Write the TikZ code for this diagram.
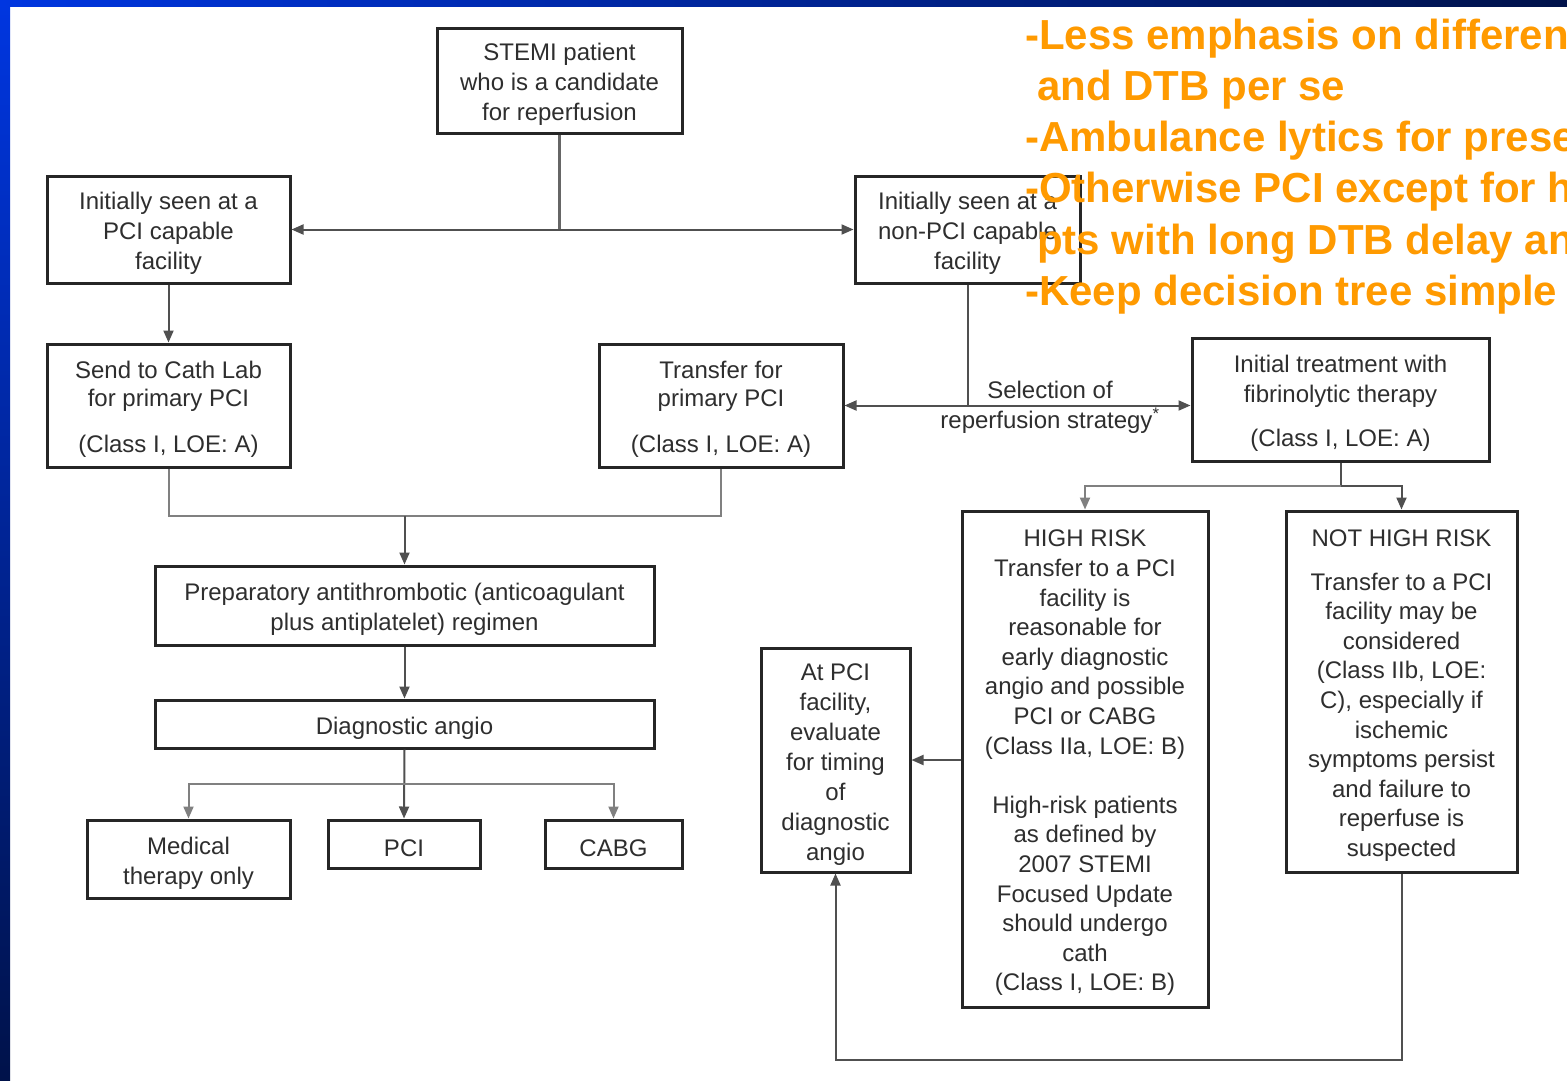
\documentclass[tikz,border=0pt]{standalone}
\usepackage{fontspec}
\setmainfont{Liberation Sans}
\usetikzlibrary{arrows.meta}
\definecolor{orng}{HTML}{FF9A00}
\definecolor{txt}{HTML}{2E2E2E}
\definecolor{ln}{HTML}{505050}
\definecolor{blueA}{HTML}{0036E0}
\definecolor{blueM}{HTML}{0026A8}
\definecolor{blueC}{HTML}{00124A}
\newcommand{\tgap}{\mbox{}\\[-5pt]}
\begin{document}
\begin{tikzpicture}[x=1pt,y=-1pt,
  box/.style={draw=black!85,line width=3pt,align=center,inner sep=0pt,text=txt,
    font=\fontsize{24}{30}\selectfont},
  conn/.style={draw=ln,line width=2pt},
  arr/.style={conn,-{Triangle[length=12pt,width=10pt]}},
  lbl/.style={text=txt,align=center,inner sep=0pt,font=\fontsize{24}{30}\selectfont},
  orangetxt/.style={text=orng,anchor=west,inner sep=0pt,
    font=\fontsize{42}{51}\selectfont\bfseries}]
\useasboundingbox (0,0) rectangle (1567,1080);
\clip (0,0) rectangle (1567,1080);
% slide background
\fill[white] (0,0) rectangle (1567,1080);
\shade[top color=blueA,bottom color=blueC] (0,0) rectangle (10,1080);
\shade[left color=blueA,middle color=blueM,right color=blueC] (0,0) rectangle (1567,6);

% boxes
\node[box,minimum width=245pt,minimum height=105pt] (stemi) at (559.5,80.5)
  {\tgap STEMI patient\\who is a candidate\\for reperfusion};
\node[box,minimum width=243pt,minimum height=107pt] (pcicap) at (168.5,229.5)
  {\tgap Initially seen at a\\PCI capable\\facility};
\node[box,minimum width=225pt,minimum height=107pt] (nonpci) at (967.5,229.5)
  {\tgap Initially seen at a\\non-PCI capable\\facility};
\node[box,minimum width=243pt,minimum height=123pt] (cath) at (168.5,405.5)
  {\tgap Send to Cath Lab\\[-2pt]for primary PCI\\[16pt](Class I, LOE: A)};
\node[box,minimum width=244pt,minimum height=123pt] (transfer) at (721,405.5)
  {\tgap Transfer for\\[-2pt]primary PCI\\[16pt](Class I, LOE: A)};
\node[box,minimum width=297pt,minimum height=123pt] (lytic) at (1340.5,399.5)
  {\tgap Initial treatment with\\fibrinolytic therapy\\[14pt](Class I, LOE: A)};
\node[box,minimum width=499pt,minimum height=79pt] (prep) at (404.5,605.5)
  {\tgap Preparatory antithrombotic (anticoagulant\\plus antiplatelet) regimen};
\node[box,minimum width=499pt,minimum height=48pt] (diag) at (404.5,724)
  {\tgap Diagnostic angio};
\node[box,minimum width=203pt,minimum height=78pt] (med) at (188.5,859)
  {\tgap Medical\\therapy only};
\node[box,minimum width=152pt,minimum height=48pt] (pci) at (404,844)
  {\tgap PCI};
\node[box,minimum width=137pt,minimum height=48pt] (cabg) at (613.5,844)
  {\tgap CABG};
\node[box,minimum width=149pt,minimum height=224pt] (atpci) at (835.5,760)
  {\tgap At PCI\\facility,\\evaluate\\for timing\\of\\diagnostic\\angio};
\node[box,minimum width=246pt,minimum height=496pt,
  font=\fontsize{24}{29.6}\selectfont] (high) at (1085,759)
  {\tgap HIGH RISK\\Transfer to a PCI\\facility is\\reasonable for\\early diagnostic\\angio and possible\\PCI or CABG\\(Class IIa, LOE: B)\\[29.6pt]High-risk patients\\as defined by\\2007 STEMI\\Focused Update\\should undergo\\cath\\(Class I, LOE: B)};
\node[box,minimum width=231pt,minimum height=361pt,
  font=\fontsize{24}{29.6}\selectfont] (nothigh) at (1401.5,691.5)
  {\tgap NOT HIGH RISK\\[14.4pt]Transfer to a PCI\\facility may be\\considered\\(Class IIb, LOE:\\C), especially if\\ischemic\\symptoms persist\\and failure to\\reperfuse is\\suspected};

% connectors
\coordinate (j1) at (stemi.south |- pcicap.east);
\draw[conn,line width=2.5pt,draw=black!60] (stemi.south) -- (j1);
\draw[arr] (j1) -- (pcicap.east);
\draw[arr] (j1) -- (j1 -| nonpci.west);
\draw[arr] (pcicap.south) -- (cath.north);

\coordinate (sel) at (nonpci.south |- transfer.east);
\draw[conn] (nonpci.south) -- (sel);
\draw[arr] (sel) -- (transfer.east);
\draw[arr] (sel) -- (sel -| lytic.west);
\node[lbl] (sellbl) at (1050,407) {Selection of\\reperfusion strategy\textsuperscript{*}};

\coordinate (m1) at (prep.north |- 0,516);
\draw[conn,draw=black!50] (cath.south) |- (transfer.south |- m1) -- (transfer.south);
\draw[arr] (m1) -- (prep.north);
\draw[arr] (prep.south) -- (diag.north);
\coordinate (m2) at (diag.south |- 0,784);
\draw[arr] (diag.south) -- (pci.north);
\draw[arr,draw=black!50] (m2) -| (med.north);
\draw[arr,draw=black!50] (m2) -| (cabg.north);

\coordinate (m3) at (lytic.south |- 0,486);
\draw[conn] (lytic.south) -- (m3);
\draw[arr,draw=black!50] (m3) -| (high.north);
\draw[arr] (m3) -| (nothigh.north);
\draw[arr] (high.west |- atpci.east) -- (atpci.east);
\coordinate (m4) at (nothigh.south |- 0,1060);
\draw[arr] (nothigh.south) -- (m4) -| (atpci.south);

% orange annotations
\node[orangetxt] (o1) at (1025,39) {-Less emphasis on differen};
\node[orangetxt] (o2) at (1037,90) {and DTB per se};
\node[orangetxt] (o3) at (1025,141) {-Ambulance lytics for prese};
\node[orangetxt] (o4) at (1025,192) {-Otherwise PCI except for h};
\node[orangetxt] (o5) at (1037,244) {pts with long DTB delay an};
\node[orangetxt] (o6) at (1025,295) {-Keep decision tree simple};
\end{tikzpicture}
\end{document}
